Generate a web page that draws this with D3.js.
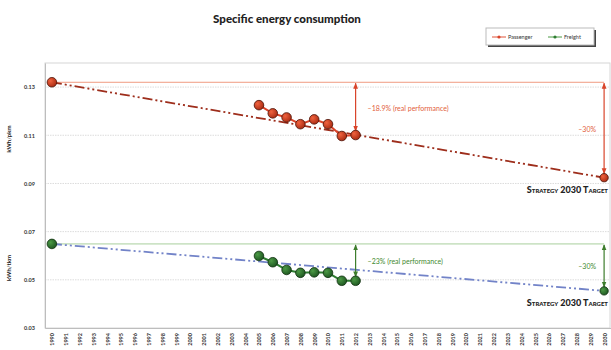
<!DOCTYPE html>
<html lang="en">
<head>
<meta charset="UTF-8">
<title>Specific energy consumption</title>
<style>
  body { margin: 0; background: #fff; }
  text { font-family: Lato, "Open Sans", sans-serif; }
</style>
</head>
<body>
<svg width="611" height="350" id="svg"></svg>
<script src="https://d3js.org/d3.v7.min.js"></script>
<script>
// categories on the x axis
const years = [1990, 1991, 1992, 1993, 1994, 1995, 1996, 1997, 1998, 1999,
  2000, 2001, 2002, 2003, 2004, 2005, 2006, 2007, 2008, 2009,
  2010, 2011, 2012, 2013, 2014, 2015, 2016, 2017, 2018, 2019,
  2020, 2021, 2022, 2023, 2024, 2025, 2026, 2027, 2028, 2029, 2030]
const yTicks = [0.03, 0.05, 0.07, 0.09, 0.11, 0.13]

// passenger (kWh/pkm)
const paxBase = { year: 1990, value: 0.132 }
const paxYears = [2005, 2006, 2007, 2008, 2009, 2010, 2011, 2012]
const paxValues = [0.1225, 0.1191, 0.1174, 0.1146, 0.1166, 0.1146, 0.1097, 0.1101]
const paxTarget = { year: 2030, value: 0.0924 }

// freight (kWh/tkm)
const frBase = { year: 1990, value: 0.0649 }
const frYears = [2005, 2006, 2007, 2008, 2009, 2010, 2011, 2012]
const frValues = [0.0599, 0.0573, 0.0541, 0.0529, 0.0531, 0.0529, 0.0496, 0.0496]
const frTarget = { year: 2030, value: 0.0454 }

const svg = d3.select("svg#svg")
const plot = { left: 45, right: 610, top: 63, bottom: 328 }

const x = d3.scaleLinear().domain([1989.5, 2030.5]).range([plot.left, plot.right + 1])
const y = d3.scaleLinear().domain([0.03, 0.14]).range([plot.bottom, plot.top])

// markers for arrows
const defs = svg.append("defs")
function arrowMarker(id, color) {
  defs.append("marker").attr("id", id).attr("viewBox", "0 0 10 10")
    .attr("refX", 9).attr("refY", 5).attr("markerWidth", 5).attr("markerHeight", 5)
    .attr("orient", "auto-start-reverse")
    .append("path").attr("d", "M0,1L10,5L0,9z").attr("fill", color)
}
arrowMarker("arrRed", "#d9442a")
arrowMarker("arrGreen", "#3d7d2c")

function ballGradient(id, light, dark) {
  const g = defs.append("radialGradient").attr("id", id).attr("cx", "35%").attr("cy", "35%").attr("r", "70%")
  g.append("stop").attr("offset", "0%").attr("stop-color", light)
  g.append("stop").attr("offset", "100%").attr("stop-color", dark)
}
ballGradient("ballRed", "#f0623e", "#a82a12")
ballGradient("ballGreen", "#4c9a45", "#1d5520")

// frame
svg.append("rect").attr("x", plot.left).attr("y", plot.top)
  .attr("width", plot.right - plot.left).attr("height", plot.bottom - plot.top)
  .attr("fill", "none").attr("stroke", "#d6d6d6")

// gridlines
svg.append("g").selectAll("line").data(yTicks.slice(1)).join("line")
  .attr("x1", plot.left).attr("x2", plot.right)
  .attr("y1", d => y(d)).attr("y2", d => y(d))
  .attr("stroke", "#dcdcdc").attr("stroke-dasharray", "1.5,1")

// y axis
const yAxis = svg.append("g").attr("transform", `translate(${plot.left},0)`)
  .call(d3.axisLeft(y).tickValues(yTicks).tickFormat(d3.format(".2f")).tickSize(0).tickPadding(10))
yAxis.select(".domain").attr("stroke", "#bdbdbd")
yAxis.selectAll("text").attr("font-size", 5.5).attr("fill", "#333").attr("font-weight", "bold")

// x axis
const xAxis = svg.append("g").attr("transform", `translate(0,${plot.bottom})`)
  .call(d3.axisBottom(x).tickValues(years).tickFormat(d3.format("d")).tickSize(0))
xAxis.select(".domain").attr("stroke", "#bdbdbd")
xAxis.selectAll("text").attr("font-size", 5.5).attr("fill", "#333").attr("font-weight", "bold")
  .attr("text-anchor", "end").attr("dy", "0.35em")
  .attr("transform", "translate(0,5) rotate(-90)").attr("x", 0).attr("y", 0)

// axis titles
svg.append("text").attr("transform", "translate(11,139) rotate(-90)")
  .attr("text-anchor", "middle").attr("font-size", 6).attr("font-weight", "bold").attr("fill", "#222")
  .text("kWh/pkm")
svg.append("text").attr("transform", "translate(11,268) rotate(-90)")
  .attr("text-anchor", "middle").attr("font-size", 6).attr("font-weight", "bold").attr("fill", "#222")
  .text("kWh/tkm")

// title
svg.append("text").attr("x", 287).attr("y", 23).attr("text-anchor", "middle")
  .attr("font-size", 11.5).attr("font-weight", "900").attr("fill", "#222")
  .text("Specific energy consumption")

// legend
const lg = svg.append("g").attr("transform", "translate(486,28)")
lg.append("rect").attr("x", 2).attr("y", 2).attr("width", 108).attr("height", 17).attr("fill", "#444")
lg.append("rect").attr("width", 108).attr("height", 17).attr("fill", "#fff").attr("stroke", "#bbb")
const legendItems = [
  { name: "Passenger", color: "#e0553a", dot: "#d9442a", dx: 6 },
  { name: "Freight", color: "#4c9a45", dot: "#2f7d32", dx: 62 }
]
legendItems.forEach(it => {
  lg.append("line").attr("x1", it.dx).attr("x2", it.dx + 14).attr("y1", 9).attr("y2", 9)
    .attr("stroke", it.color).attr("stroke-width", 1)
  lg.append("circle").attr("cx", it.dx + 7).attr("cy", 9).attr("r", 1.6).attr("fill", it.dot)
  lg.append("text").attr("x", it.dx + 16).attr("y", 11).attr("font-size", 5.5).attr("fill", "#333")
    .text(it.name)
})

function drawGroup(base, yrs, vals, target, c) {
  const g = svg.append("g")
  // base level
  g.append("line").attr("x1", x(base.year)).attr("x2", x(target.year))
    .attr("y1", y(base.value)).attr("y2", y(base.value))
    .attr("stroke", c.level).attr("stroke-width", 1)
  // trend to target
  const line = d3.line().x(d => x(d.year)).y(d => y(d.value))
  g.append("path").datum([base, target]).attr("d", line)
    .attr("fill", "none").attr("stroke", c.trend).attr("stroke-width", 1.8)
    .attr("stroke-dasharray", "10,3,2,3,2,3")
  // arrows
  const lastYear = yrs[yrs.length - 1]
  const lastVal = vals[vals.length - 1]
  g.append("line").attr("x1", x(lastYear)).attr("x2", x(lastYear))
    .attr("y1", y(base.value) + 1).attr("y2", y(lastVal) - 4)
    .attr("stroke", c.arrow).attr("stroke-width", 1.2)
    .attr("marker-start", `url(#${c.marker})`).attr("marker-end", `url(#${c.marker})`)
  g.append("line").attr("x1", x(target.year)).attr("x2", x(target.year))
    .attr("y1", y(base.value) + 1).attr("y2", y(target.value) - 4)
    .attr("stroke", c.arrow).attr("stroke-width", 1.2)
    .attr("marker-start", `url(#${c.marker})`).attr("marker-end", `url(#${c.marker})`)
  // labels
  g.append("text").attr("x", x(lastYear) + 12).attr("y", (y(base.value) + y(lastVal)) / 2 + 2)
    .attr("font-size", 7).attr("fill", c.text).text(c.realLabel)
  g.append("text").attr("x", x(target.year) - 8).attr("y", (y(base.value) + y(target.value)) / 2 + 2)
    .attr("text-anchor", "end").attr("font-size", 7).attr("fill", c.text).text("\u201330%")
  g.append("text").attr("x", 608).attr("y", y(target.value) + 15).attr("text-anchor", "end")
    .attr("font-size", 9).attr("font-weight", "900").attr("fill", "#222")
    .style("font-variant", "small-caps").text("Strategy 2030 Target")
  // series line and dots
  const pts = yrs.map((yr, i) => ({ year: yr, value: vals[i] }))
  g.append("path").datum(pts).attr("d", line)
    .attr("fill", "none").attr("stroke", c.series).attr("stroke-width", 2)
  g.selectAll("circle").data([base].concat(pts, [target])).join("circle")
    .attr("cx", d => x(d.year)).attr("cy", d => y(d.value))
    .attr("r", (d, i) => i === pts.length + 1 ? 4.2 : 4.8)
    .attr("fill", `url(#${c.ball})`).attr("stroke", c.edge).attr("stroke-width", 0.8)
}

drawGroup(paxBase, paxYears, paxValues, paxTarget, {
  level: "#f09a80", trend: "#9e2e1c", arrow: "#d9442a", marker: "arrRed",
  text: "#e2603c", series: "#d9442a", ball: "ballRed", edge: "#4a1206",
  realLabel: "\u201318.9% (real performance)"
})
drawGroup(frBase, frYears, frValues, frTarget, {
  level: "#a9cf9c", trend: "#7283c8", arrow: "#3d7d2c", marker: "arrGreen",
  text: "#3f8a2f", series: "#2f7d32", ball: "ballGreen", edge: "#10300f",
  realLabel: "\u201323% (real performance)"
})
</script>
</body>
</html>
